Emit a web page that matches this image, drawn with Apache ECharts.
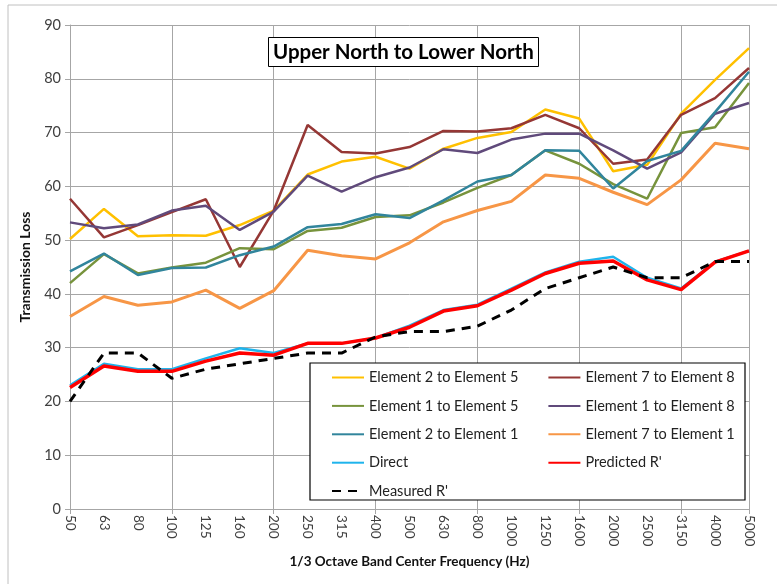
<!DOCTYPE html>
<html>
<head>
<meta charset="utf-8">
<script src="https://cdn.jsdelivr.net/npm/echarts@6/dist/echarts.min.js"></script>
<style>
  html, body { margin: 0; padding: 0; background: #ffffff; }
  #transmission_loss { width: 777px; height: 584px; }
</style>
</head>
<body>
<div id="transmission_loss"></div>
<script>
// 1/3 octave band centre frequencies (Hz)
const frequencies = ['50','63','80','100','125','160','200','250','315','400','500','630','800','1000','1250','1600','2000','2500','3150','4000','5000'];

const el2to5 = [50.2,55.8,50.7,50.9,50.8,52.8,55.5,62.2,64.6,65.5,63.3,67.0,69.0,70.1,74.3,72.6,62.8,64.0,73.5,79.8,85.7];
const el7to8 = [57.7,50.5,52.8,55.2,57.6,45.0,55.5,71.4,66.4,66.1,67.3,70.3,70.2,70.8,73.3,70.8,64.2,65.0,73.3,76.4,82.0];
const el1to5 = [42.0,47.4,43.8,44.9,45.8,48.5,48.3,51.7,52.3,54.3,54.6,57.0,59.7,62.1,66.7,64.2,60.4,57.7,69.9,71.0,79.2];
const el1to8 = [53.3,52.2,52.9,55.5,56.4,51.9,55.3,62.0,59.0,61.7,63.5,66.9,66.2,68.7,69.8,69.8,66.7,63.3,66.3,73.5,75.5];
const el2to1 = [44.2,47.5,43.5,44.8,44.9,47.2,48.8,52.4,53.0,54.8,54.1,57.4,60.9,62.1,66.7,66.6,59.6,64.7,66.6,73.8,81.3];
const el7to1 = [35.8,39.5,37.9,38.5,40.7,37.3,40.6,48.1,47.1,46.5,49.5,53.4,55.5,57.2,62.1,61.5,58.9,56.6,61.2,68.0,67.0];
const direct = [23.0,27.0,26.0,26.0,28.0,29.9,29.0,30.8,30.8,31.8,34.1,37.0,38.0,41.0,44.0,46.0,46.9,43.0,41.0,46.0,48.0];
const predicted = [22.6,26.6,25.6,25.6,27.5,29.0,28.6,30.8,30.8,31.8,33.8,36.8,37.8,40.7,43.8,45.7,46.1,42.6,40.8,45.9,48.0];
const measured = [20.0,29.0,29.0,24.3,26.0,27.0,28.0,29.0,29.0,32.0,33.0,33.0,34.0,37.0,41.0,43.0,45.0,43.0,43.0,46.0,46.0];

(function() {
  const chartDom = document.getElementById('transmission_loss');
  const chart = echarts.init(chartDom);

  const font = 'Lato, "Open Sans", sans-serif';
  const textColor = '#404040';
  const gridColor = '#a6a6a6';

  const seriesData = [
    { name: 'Element 2 to Element 5', data: el2to5, color: '#ffc000', width: 2.5 },
    { name: 'Element 7 to Element 8', data: el7to8, color: '#953735', width: 2.5 },
    { name: 'Element 1 to Element 5', data: el1to5, color: '#77933c', width: 2.5 },
    { name: 'Element 1 to Element 8', data: el1to8, color: '#604a7b', width: 2.5 },
    { name: 'Element 2 to Element 1', data: el2to1, color: '#31859c', width: 2.5 },
    { name: 'Element 7 to Element 1', data: el7to1, color: '#f79646', width: 3 },
    { name: 'Direct', data: direct, color: '#1fb4ec', width: 2.5 },
    { name: "Predicted R'", data: predicted, color: '#ff0000', width: 3.5 },
    { name: "Measured R'", data: measured, color: '#000000', width: 3, dashed: true }
  ];

  const option = {
    backgroundColor: '#ffffff',
    animation: false,
    textStyle: { fontFamily: font },
    title: {
      text: 'Upper North to Lower North',
      left: 268,
      top: 37,
      padding: [5, 5, 4, 5],
      borderColor: '#000000',
      borderWidth: 1,
      backgroundColor: '#ffffff',
      textStyle: { fontFamily: font, fontSize: 20.5, fontWeight: 'bold', color: '#000000' }
    },
    graphic: [
      {
        type: 'rect',
        shape: { x: 8, y: 5, width: 820, height: 620 },
        style: { fill: 'none', stroke: '#c0c0c0', lineWidth: 1 },
        z: 0
      },
      {
        type: 'rect',
        shape: { x: 310, y: 363, width: 435, height: 137 },
        style: { fill: '#ffffff', stroke: '#000000', lineWidth: 1.2 },
        z: 3
      }
    ],
    legend: {
      left: 331,
      top: 370,
      width: 430,
      padding: 0,
      itemWidth: 32,
      itemHeight: 14,
      itemGap: 13.4,
      z: 5,
      itemStyle: { opacity: 0 },
      data: seriesData.map(s => s.name),
      textStyle: { fontFamily: font, fontSize: 14.5, color: '#222222', width: 165, lineHeight: 14 }
    },
    grid: { left: 70, right: 28, top: 25, bottom: 75 },
    xAxis: {
      type: 'category',
      data: frequencies,
      boundaryGap: false,
      name: '1/3 Octave Band Center Frequency (Hz)',
      nameLocation: 'middle',
      nameGap: 46,
      nameTextStyle: { fontFamily: font, fontSize: 13.5, fontWeight: 'bold', color: '#111111' },
      axisLine: { lineStyle: { color: gridColor, width: 1 } },
      axisTick: { show: true, interval: 2, length: 5, lineStyle: { color: gridColor } },
      axisLabel: { interval: 0, rotate: -90, margin: 6, fontSize: 13.5, color: textColor, fontFamily: font },
      splitLine: { show: true, interval: 2, lineStyle: { color: gridColor, width: 1 } }
    },
    yAxis: {
      type: 'value',
      min: 0,
      max: 90,
      interval: 10,
      name: 'Transmission Loss',
      nameLocation: 'middle',
      nameGap: 38,
      nameTextStyle: { fontFamily: font, fontSize: 14, fontWeight: 'bold', color: '#111111' },
      axisLine: { show: true, lineStyle: { color: gridColor, width: 1 } },
      axisTick: { show: true, length: 5, lineStyle: { color: gridColor } },
      axisLabel: { margin: 9, fontSize: 14.5, color: textColor, fontFamily: font },
      splitLine: { lineStyle: { color: gridColor, width: 1 } }
    },
    series: seriesData.map(s => ({
      name: s.name,
      type: 'line',
      data: s.data,
      symbol: 'none',
      z: 2,
      color: s.color,
      lineStyle: {
        color: s.color,
        width: s.width,
        type: s.dashed ? [9, 7] : 'solid'
      }
    }))
  };

  chart.setOption(option);
})();
</script>
</body>
</html>
